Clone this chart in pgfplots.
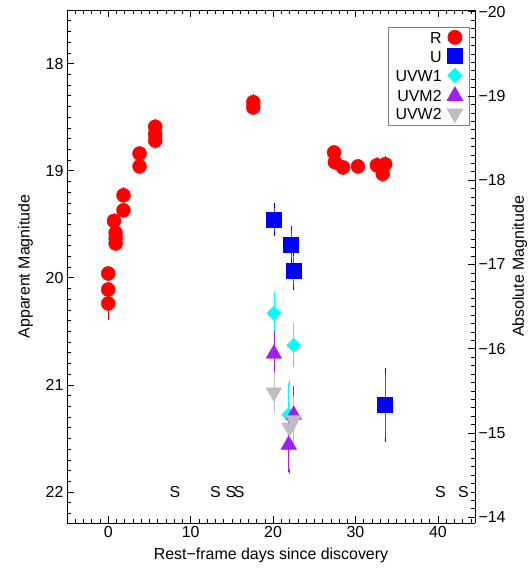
\documentclass[border=0pt]{standalone}
\usepackage{fontspec}
\setmainfont{Liberation Sans}
\usepackage{pgfplots}
\usepackage{pgfplotstable}
\pgfplotsset{compat=1.18}

\definecolor{rred}{RGB}{255,0,0}
\definecolor{ublue}{RGB}{0,0,255}
\definecolor{wcyan}{RGB}{0,255,255}
\definecolor{mpurple}{RGB}{160,32,240}
\definecolor{wgray}{RGB}{190,190,190}
\newcommand{\fs}{\fontsize{16}{19}\selectfont}

\pgfplotsset{
  frame/.style={
    scale only axis, width=408bp, height=513bp,
    xmin=-5, xmax=44.5,
    tick align=inside,
    major tick length=7bp, minor tick length=4bp,
    tick style={black, line width=0.5bp},
    axis line style={black, line width=0.6bp},
    tick label style={font=\fs},
    label style={font=\fs},
    clip=false,
  }
}

\pgfplotstableread{
x y e
0.0 19.96 0.05
0.0 20.11 0.05
0.0 20.24 0.13
0.7 19.47 0.05
0.9 19.58 0.05
0.9 19.63 0.05
0.9 19.68 0.05
1.85 19.23 0.05
1.85 19.37 0.05
3.8 18.84 0.05
3.8 18.96 0.05
5.7 18.59 0.05
5.7 18.66 0.05
5.7 18.72 0.05
17.6 18.36 0.05
17.6 18.41 0.05
27.4 18.83 0.05
27.5 18.92 0.05
28.5 18.97 0.05
30.3 18.96 0.05
32.6 18.95 0.05
33.6 18.94 0.05
33.3 19.03 0.05
}\Rdata

\pgfplotstableread{
x y e
20.1 19.46 0.13
22.2 19.69 0.15
22.5 19.93 0.16
33.6 21.19 0.32
}\Udata

\pgfplotstableread{
x y e
20.1 20.33 0.17
22.5 20.63 0.18
21.9 21.28 0.30
}\WOnedata

\pgfplotstableread{
x y e
20.1 20.71 0.19
22.5 21.28 0.25
21.9 21.56 0.25
}\Mdata

\pgfplotstableread{
x y e
20.1 21.07 0.17
22.0 21.40 0.20
22.5 21.33 0.20
}\WTwodata

\begin{document}
\begin{tikzpicture}
% data axis (no frame)
\begin{axis}[
  name=main,
  scale only axis, width=408bp, height=513bp,
  xmin=-5, xmax=44.5,
  ymin=17.5, ymax=22.29, y dir=reverse,
  hide axis,
  legend style={at={(axis description cs:0.988,0.967)}, anchor=north east,
    draw=gray, line width=0.8bp, font=\fs, row sep=4.5bp, column sep=5bp,
    inner xsep=7bp, inner ysep=3bp,
    nodes={inner sep=0.5bp, text height=12bp, text depth=0bp}},
  legend cell align=right, legend plot pos=right,
  clip=false,
]
\addplot[only marks, mark=*, mark size=7bp, color=rred,
  error bars/.cd, y dir=both, y explicit,
  error bar style={rred, line width=0.5bp},
  error mark options={rred, mark size=2.5bp}]
  table[x=x, y=y, y error=e]{\Rdata};
\addlegendentry{R}
\addplot[only marks, mark=square*, mark size=7.5bp, color=ublue,
  error bars/.cd, y dir=both, y explicit,
  error bar style={ublue!70, line width=0.7bp},
  error mark options={ublue, mark size=2.5bp}]
  table[x=x, y=y, y error=e]{\Udata};
\addlegendentry{U}
\addplot[only marks, mark=square*, mark size=5bp, mark options={rotate=45}, color=wcyan,
  error bars/.cd, y dir=both, y explicit,
  error bar style={wcyan, line width=0.7bp},
  error mark options={wcyan, mark size=2.5bp, rotate=0}]
  table[x=x, y=y, y error=e]{\WOnedata};
\addlegendentry{UVW1}
\addplot[only marks, mark=triangle*, mark size=9bp, color=mpurple,
  error bars/.cd, y dir=both, y explicit,
  error bar style={mpurple, line width=0.7bp},
  error mark options={mpurple, mark size=2.5bp}]
  table[x=x, y=y, y error=e]{\Mdata};
\addlegendentry{UVM2}
\addplot[only marks, mark=triangle*, mark size=9bp, mark options={rotate=180}, color=wgray,
  error bars/.cd, y dir=both, y explicit,
  error bar style={wgray, line width=0.7bp},
  error mark options={wgray, mark size=2.5bp, rotate=0}]
  table[x=x, y=y, y error=e]{\WTwodata};
\addlegendentry{UVW2}
\addplot[only marks, forget plot, black, mark=text, text mark={\fs S}]
  coordinates {(8.1,22.0) (13.0,22.0) (14.9,22.0) (15.9,22.0) (40.3,22.0) (43.1,22.0)};
\end{axis}
% left axis
\begin{axis}[
  frame, axis x line=none, axis y line*=left,
  ymin=17.5, ymax=22.29, y dir=reverse,
  ytick={18,19,20,21,22}, yticklabels={18,19,20,21,22},
  minor y tick num=9,
  ylabel={Apparent Magnitude},
  ylabel shift=6bp,
]
\addplot[draw=none] coordinates {(0,20)};
\pgfplotsinvokeforeach{17.6,17.7,...,22.2}{\draw[black, line width=0.5bp] (axis cs:-5,#1) -- (axis cs:-4.5,#1);}
\pgfplotsinvokeforeach{18,19,20,21,22}{\draw[black, line width=0.5bp] (axis cs:-5,#1) -- (axis cs:-4.15,#1);}
\end{axis}
% bottom axis
\begin{axis}[
  frame, axis y line=none, axis x line*=bottom,
  ymin=0, ymax=1,
  xtick={0,10,20,30,40}, xticklabels={0,10,20,30,40},
  minor x tick num=9,
  xlabel={Rest−frame days since discovery},
  xlabel shift=3bp,
]
\addplot[draw=none] coordinates {(0,0.5)};
\pgfplotsinvokeforeach{-4,-3,...,44}{\draw[black, line width=0.5bp] (axis cs:#1,0) -- (axis cs:#1,0.0078);}
\pgfplotsinvokeforeach{0,10,20,30,40}{\draw[black, line width=0.5bp] (axis cs:#1,0) -- (axis cs:#1,0.0136);}
\end{axis}
% top axis
\begin{axis}[
  frame, axis y line=none, axis x line*=top,
  ymin=0, ymax=1,
  xtick={0,10,20,30,40}, xticklabels={},
  minor x tick num=9,
]
\addplot[draw=none] coordinates {(0,0.5)};
\pgfplotsinvokeforeach{-4,-3,...,44}{\draw[black, line width=0.5bp] (axis cs:#1,1) -- (axis cs:#1,0.9922);}
\pgfplotsinvokeforeach{0,10,20,30,40}{\draw[black, line width=0.5bp] (axis cs:#1,1) -- (axis cs:#1,0.9864);}
\end{axis}
% right axis
\begin{axis}[
  frame, axis x line=none, axis y line*=right,
  ymin=-20.02, ymax=-13.93, y dir=reverse,
  ytick={-20,-19,-18,-17,-16,-15,-14},
  yticklabels={−20,−19,−18,−17,−16,−15,−14},
  minor y tick num=9,
  ylabel={Absolute Magnitude},
]
\addplot[draw=none] coordinates {(0,-15)};
\end{axis}
\pgfresetboundingbox
\path ([shift={(-67bp,-47bp)}]main.south west) rectangle ([shift={(53bp,10bp)}]main.north east);
\end{tikzpicture}
\end{document}
